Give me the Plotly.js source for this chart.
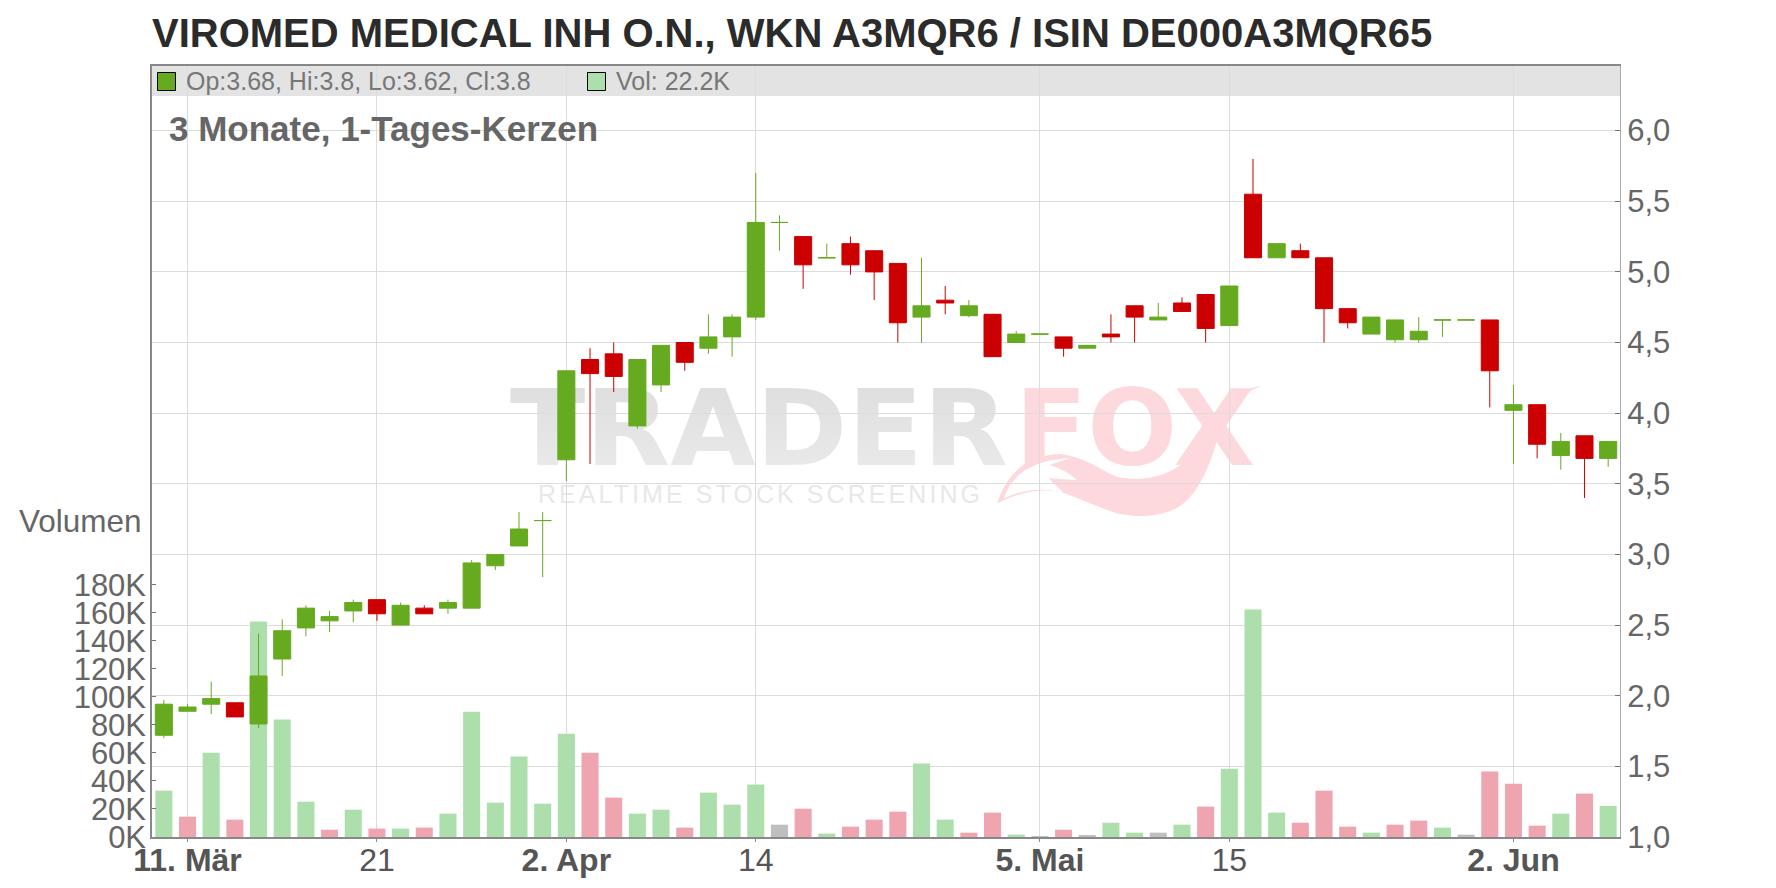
<!DOCTYPE html>
<html><head><meta charset="utf-8">
<script src="https://cdn.plot.ly/plotly-3.0.1.min.js"></script>
<style>
html,body{margin:0;padding:0;background:#fff;width:1776px;height:888px;overflow:hidden}
#wm{position:absolute;left:0;top:0;z-index:0}
#chart{position:absolute;left:0;top:0;width:1776px;height:888px;z-index:1}
</style></head><body>
<svg id="wm" width="1776" height="888" xmlns="http://www.w3.org/2000/svg">
  <defs><linearGradient id="gr" x1="0" y1="0" x2="0" y2="1"><stop offset="0" stop-color="#dcdcdc"/><stop offset="1" stop-color="#ececec"/></linearGradient></defs>
  <text x="510" y="465" font-family="DejaVu Sans" font-weight="bold" font-size="106" fill="url(#gr)" textLength="498" lengthAdjust="spacingAndGlyphs">TRADER</text>
  <text x="1015" y="465" font-family="DejaVu Sans" font-weight="bold" font-size="106" fill="#fdd9de" textLength="240" lengthAdjust="spacingAndGlyphs">FOX</text>
  <text x="538" y="503" font-family="Liberation Sans" font-size="25" fill="#e8e8e8" textLength="442" lengthAdjust="spacing">REALTIME STOCK SCREENING</text>
  <g transform="translate(900,370) scale(0.33333)">
    <path fill="#fdd9de" d="M292 400 C320 310 380 255 480 252 C560 262 600 300 650 320 C720 335 800 325 860 270 C910 215 960 140 1000 90 C1030 60 1060 50 1085 48 C1030 65 990 110 950 215 C925 300 890 380 830 415 C780 440 720 445 650 430 C590 410 540 385 490 368 C420 350 350 370 292 400 Z"/>
    <path fill="#ffffff" d="M312 385 C330 325 385 270 510 265 L448 285 C480 295 510 310 530 330 L445 325 L490 368 C420 350 360 362 312 385 Z"/>
  </g>
</svg>
<div id="chart"></div>
<script>
var days = ["10.03","11.03","12.03","13.03","14.03","17.03","18.03","19.03","20.03","21.03","24.03","25.03","26.03","27.03","28.03","31.03","01.04","02.04","03.04","04.04","07.04","08.04","09.04","10.04","11.04","14.04","15.04","16.04","17.04","22.04","23.04","24.04","25.04","28.04","29.04","30.04","02.05","05.05","06.05","07.05","08.05","09.05","12.05","13.05","14.05","15.05","16.05","19.05","20.05","21.05","22.05","23.05","26.05","27.05","28.05","29.05","30.05","02.06","03.06","04.06","05.06","06.06"];
var opens  = [1.72,1.89,1.94,1.95,1.80,2.26,2.48,2.53,2.60,2.68,2.50,2.62,2.62,2.62,2.92,3.06,3.24,3.67,4.38,4.42,3.91,4.20,4.50,4.46,4.54,4.68,5.35,5.25,5.10,5.20,5.15,5.06,4.68,4.80,4.69,4.70,4.50,4.56,4.54,4.46,4.56,4.76,4.66,4.78,4.84,4.62,5.55,5.10,5.15,5.10,4.74,4.56,4.52,4.52,4.66,4.66,4.66,4.02,4.06,3.70,3.84,3.68];
var highs  = [1.97,1.94,2.10,1.95,2.44,2.54,2.64,2.60,2.68,2.68,2.66,2.64,2.68,2.96,3.00,3.30,3.30,4.30,4.46,4.50,4.38,4.48,4.50,4.70,4.70,5.70,5.40,5.25,5.20,5.25,5.15,5.06,5.10,4.90,4.80,4.70,4.58,4.56,4.54,4.48,4.70,4.76,4.78,4.82,4.84,4.90,5.80,5.20,5.20,5.10,4.74,4.68,4.66,4.68,4.66,4.66,4.66,4.20,4.06,3.86,3.84,3.80];
var lows   = [1.70,1.89,1.87,1.85,1.77,2.14,2.42,2.45,2.52,2.53,2.50,2.58,2.58,2.62,2.89,3.06,2.84,3.52,3.64,4.15,3.89,4.15,4.30,4.42,4.40,4.66,5.15,4.88,5.10,4.98,4.80,4.50,4.50,4.70,4.68,4.40,4.50,4.56,4.40,4.46,4.50,4.50,4.66,4.72,4.50,4.62,5.10,5.10,5.10,4.50,4.60,4.56,4.50,4.50,4.54,4.66,4.04,3.64,3.68,3.60,3.40,3.62];
var closes = [1.94,1.92,1.98,1.85,2.14,2.46,2.62,2.56,2.66,2.58,2.64,2.58,2.66,2.94,3.00,3.18,3.24,4.30,4.28,4.26,4.38,4.48,4.36,4.54,4.68,5.35,5.35,5.05,5.10,5.05,5.00,4.64,4.76,4.78,4.76,4.40,4.56,4.56,4.46,4.48,4.54,4.68,4.68,4.72,4.60,4.90,5.10,5.20,5.10,4.74,4.64,4.68,4.66,4.58,4.66,4.66,4.30,4.06,3.78,3.80,3.68,3.80];
var volumes = [33.1,14.5,60.2,12.4,153.8,83.8,25.2,5.2,19.5,6.0,6.0,6.7,16.7,89.5,24.5,57.4,23.8,73.8,60.2,28.1,16.7,19.5,6.7,31.7,23.1,37.4,8.8,20.2,2.4,7.4,12.4,18.1,52.4,12.4,3.1,17.4,1.7,0.2,5.2,1.0,10.2,3.1,3.1,8.8,21.7,48.8,162.4,17.4,10.2,33.1,7.4,3.1,8.8,11.7,6.7,1.7,46.7,38.1,8.1,16.7,31.0,22.2];
var volumeTone = ["g","d","g","d","g","g","g","d","g","d","g","d","g","g","g","g","g","g","d","d","g","g","d","g","g","g","n","d","g","d","d","d","g","g","d","d","g","n","d","n","g","g","n","g","d","g","g","g","d","d","d","g","d","d","g","n","d","d","d","g","d","g"];
var volumeTickValues = [0,20,40,60,80,100,120,140,160,180];
var volumeTickLabels = ["0K","20K","40K","60K","80K","100K","120K","140K","160K","180K"];
var dateTickValues = ["11.03","21.03","02.04","14.04","05.05","15.05","02.06"];
var dateTickLabels = ["<b>11. Mär</b>","21","<b>2. Apr</b>","14","<b>5. Mai</b>","15","<b>2. Jun</b>"];
var titleText = "VIROMED MEDICAL INH O.N., WKN A3MQR6 / ISIN DE000A3MQR65";
var legendPrice = "Op:3.68, Hi:3.8, Lo:3.62, Cl:3.8";
var legendVolume = "Vol: 22.2K";
var periodText = "3 Monate, 1-Tages-Kerzen";
var volumeLabel = "Volumen";

var GREEN="#66aa20", RED="#cc0000";
var toneColor={g:"#addfac",d:"#efa5b0",n:"#bfbfbf"};
var L=152,R=1620,T=66,B=836.6;
function px(x){return (x-L)/(R-L);}
function py(y){return (B-y)/(B-T);}

function candles(keep,color){
  var idx=days.map(function(_,i){return i;}).filter(keep);
  function pick(a){return idx.map(function(i){return a[i];});}
  var side={line:{color:color,width:1},fillcolor:color};
  return {type:"candlestick",x:pick(days),open:pick(opens),high:pick(highs),low:pick(lows),close:pick(closes),
    yaxis:"y2",xaxis:"x",increasing:side,decreasing:side,whiskerwidth:0,hoverinfo:"x+y",showlegend:false};
}
var traces=[
  {type:"bar",x:days,y:volumes,marker:{color:volumeTone.map(function(t){return toneColor[t];}),line:{width:0}},hoverinfo:"x+y",showlegend:false,xaxis:"x",yaxis:"y"},
  candles(function(i){return closes[i]>=opens[i];},GREEN),
  candles(function(i){return closes[i]<opens[i];},RED)
];
function note(text,x,y,size,color,bold){
  return {text:bold?"<b>"+text+"</b>":text,xref:"paper",yref:"paper",x:px(x),y:py(y),xanchor:"left",yanchor:"middle",showarrow:false,
    font:{family:"Liberation Sans",size:size,color:color},borderpad:0,ax:0,ay:0};
}
var layout={
  width:1776,height:888,margin:{l:L,r:1776-R,t:T,b:888-B,pad:0},
  paper_bgcolor:"rgba(0,0,0,0)",plot_bgcolor:"rgba(0,0,0,0)",
  separators:",.",bargap:0.28,boxgap:0.28,boxgroupgap:0,boxmode:"overlay",showlegend:false,dragmode:false,
  font:{family:"Liberation Sans"},
  title:{text:"<b>"+titleText+"</b>",font:{family:"Liberation Sans",size:40,color:"#2b2b2b"},xref:"paper",x:0,xanchor:"left",yref:"container",y:0.9625,yanchor:"middle",pad:{l:0,r:0,t:0,b:0}},
  xaxis:{type:"category",categoryorder:"array",categoryarray:days,range:[-0.5,61.5],rangeslider:{visible:false},
    tickmode:"array",tickvals:dateTickValues,ticktext:dateTickLabels,ticks:"outside",ticklen:3,tickcolor:"#888",ticklabelstandoff:-9,
    tickfont:{family:"Liberation Sans",size:32,color:"#555"},showgrid:true,gridcolor:"#dcdcdc",gridwidth:1,
    showline:true,linecolor:"#888",linewidth:1.5,mirror:true,zeroline:false,tickangle:0},
  yaxis:{range:[0,(B-T)/1.4],tickmode:"array",tickvals:volumeTickValues,ticktext:volumeTickLabels,ticks:"inside",ticklen:4,tickcolor:"#777",ticklabelstandoff:-2,
    tickfont:{family:"Liberation Sans",size:31,color:"#666"},showgrid:false,zeroline:false,showline:true,linecolor:"#888",linewidth:1.5,side:"left"},
  yaxis2:{overlaying:"y",side:"right",range:[1,1+(B-T)/141.2],tick0:1,dtick:0.5,tickformat:".1f",ticks:"inside",ticklen:5,tickcolor:"#777",
    tickfont:{family:"Liberation Sans",size:31,color:"#666"},showgrid:true,gridcolor:"#dcdcdc",gridwidth:1,zeroline:false,showline:true,linecolor:"#aaa",linewidth:1},
  shapes:[
    {type:"rect",xref:"paper",yref:"paper",x0:0,x1:1,y0:py(96),y1:1,fillcolor:"#e3e3e3",line:{width:0},layer:"below"},
    {type:"rect",xref:"paper",yref:"paper",x0:px(157.5),x1:px(175.5),y0:py(90.5),y1:py(72.5),fillcolor:GREEN,line:{color:"#000",width:1},layer:"above"},
    {type:"rect",xref:"paper",yref:"paper",x0:px(587.5),x1:px(605.5),y0:py(90.5),y1:py(72.5),fillcolor:toneColor.g,line:{color:"#000",width:1},layer:"above"}
  ],
  annotations:[
    note(legendPrice,185,81,25,"#777"),
    note(legendVolume,615,81,25,"#777"),
    note(periodText,168,128,35,"#666",true),
    note(volumeLabel,18,521,31.5,"#666")
  ]
};
Plotly.newPlot("chart",traces,layout,{displayModeBar:false,responsive:false});
</script>
</body></html>
